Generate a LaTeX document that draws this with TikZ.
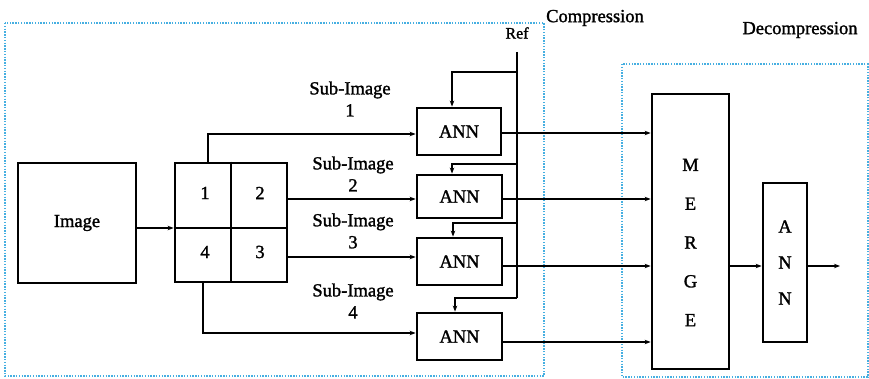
\documentclass[tikz,border=0pt]{standalone}
\usepackage{fontspec}
\setmainfont{Liberation Serif}[FakeBold=1.5]
\usetikzlibrary{arrows.meta}
\definecolor{dotblue}{RGB}{70,175,225}
\begin{document}
\begin{tikzpicture}[x=1pt,y=-1pt,
  box/.style={draw,line width=2.8pt,inner sep=0pt},
  arr/.style={line width=1.3pt,-{Stealth[length=6pt,width=4.5pt]}},
  ln/.style={line width=1.3pt},
  dotbox/.style={draw=dotblue,line width=2pt,dash pattern=on 1.4pt off 1.4pt},
  txt/.style={font=\fontsize{18.5}{22}\selectfont,align=center,inner sep=0pt},
  letters/.style={font=\fontsize{18.5}{38.8}\selectfont,align=center,inner sep=0pt}]
\useasboundingbox (0,0) rectangle (869,379);
% dotted regions
\draw[dotbox] (5,23) rectangle (544,376);
\draw[dotbox] (622,64) rectangle (867.5,377);
\node[txt] (comp) at (595,18) {Compression};
\node[txt] (decomp) at (800,30) {Decompression};
% boxes
\node[box,minimum width=118pt,minimum height=120pt,font=\fontsize{18.5}{22}\selectfont] (img) at (77,223) {Image};
\node[box,minimum width=112pt,minimum height=119pt] (grid) at (231,222.5) {};
\draw[ln] (grid.north) -- (grid.south);
\draw[ln] ([yshift=-5.5pt]grid.west) -- ([yshift=-5.5pt]grid.east);
\node[txt] (n1) at (205,193) {1};
\node[txt] (n2) at (260,193) {2};
\node[txt] (n4) at (205,252) {4};
\node[txt] (n3) at (260,252) {3};
\node[box,minimum width=84pt,minimum height=47pt,font=\fontsize{18.5}{22}\selectfont] (ann1) at (459,131.5) {ANN};
\node[box,minimum width=85pt,minimum height=43pt,font=\fontsize{18.5}{22}\selectfont] (ann2) at (459.5,196.5) {ANN};
\node[box,minimum width=85pt,minimum height=47pt,font=\fontsize{18.5}{22}\selectfont] (ann3) at (459.5,261.5) {ANN};
\node[box,minimum width=85pt,minimum height=47pt,font=\fontsize{18.5}{22}\selectfont] (ann4) at (459.5,336.5) {ANN};
\node[box,minimum width=77pt,minimum height=275pt] (merge) at (690.5,231.5) {};
\node[letters] (mergetxt) at ([yshift=-11pt]merge.center) {M\\E\\R\\G\\E};
\node[box,minimum width=44pt,minimum height=159pt,font=\fontsize{18.5}{36}\selectfont,align=center] (ann5) at (785,262.5) {A\\N\\N};
% sub-image labels
\node[txt] (s1) at (350,99) {Sub-Image\\1};
\node[txt] (s2) at (353,174) {Sub-Image\\2};
\node[txt] (s3) at (353,231) {Sub-Image\\3};
\node[txt] (s4) at (353,301) {Sub-Image\\4};
% Ref
\node[txt,font=\fontsize{16}{20}\selectfont] (ref) at (517,33) {Ref};
\coordinate (reftop) at (517,52);
\coordinate (b1) at (517,72);
\coordinate (b2) at (517,164);
\coordinate (b3) at (517,223);
\coordinate (b4) at (517,298);
\draw[ln] (reftop) -- (b4);
\draw[arr] (b1) -| ([xshift=-7pt]ann1.north);
\draw[arr] (b2) -| ([xshift=-7.5pt]ann2.north);
\draw[arr] (b3) -| ([xshift=-6.5pt]ann3.north);
\draw[arr] (b4) -| ([xshift=-4.5pt]ann4.north);
% connectors
\draw[arr] ([yshift=-5pt]img.east) -- ([yshift=-5pt]img.east -| grid.west);
\draw[arr] ([xshift=-23pt]grid.north) |- ([yshift=-2.5pt]ann1.west);
\draw[arr] ([yshift=-2.5pt]ann2.west -| grid.east) -- ([yshift=-2.5pt]ann2.west);
\draw[arr] ([yshift=4.5pt]ann3.west -| grid.east) -- ([yshift=4.5pt]ann3.west);
\draw[arr] ([xshift=-28pt]grid.south) |- ([yshift=3.5pt]ann4.west);
\draw[arr] ([yshift=-1.5pt]ann1.east) -- ([yshift=-1.5pt]ann1.east -| merge.west);
\draw[arr] ([yshift=-2.5pt]ann2.east) -- ([yshift=-2.5pt]ann2.east -| merge.west);
\draw[arr] ([yshift=-4.5pt]ann3.east) -- ([yshift=-4.5pt]ann3.east -| merge.west);
\draw[arr] ([yshift=-5.5pt]ann4.east) -- ([yshift=-5.5pt]ann4.east -| merge.west);
\draw[arr] ([yshift=-3.5pt]ann5.west -| merge.east) -- ([yshift=-3.5pt]ann5.west);
\coordinate (out) at (840,266);
\draw[arr] ([yshift=-3.5pt]ann5.east) -- (out);
\end{tikzpicture}
\end{document}
